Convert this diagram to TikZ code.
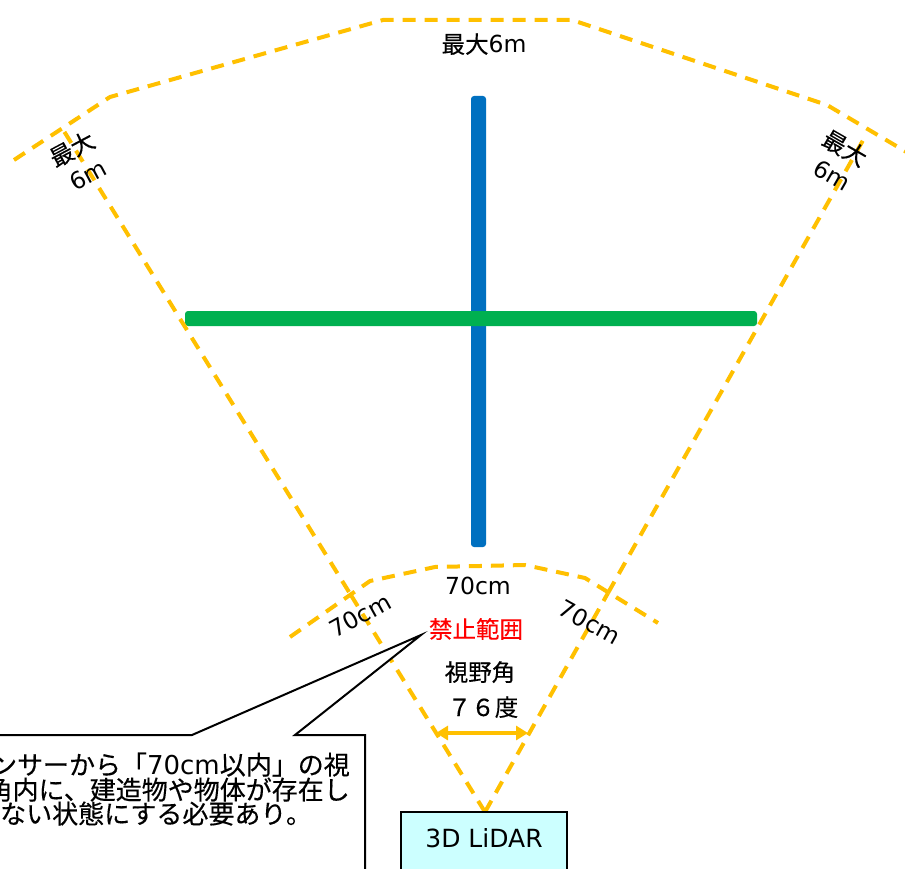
\documentclass[tikz,border=0pt]{standalone}
\usepackage{fontspec}
\setmainfont{DejaVu Sans}
\newfontfamily\cjk[FakeBold=0.3]{Noto Sans CJK JP}
\usetikzlibrary{arrows.meta}
\definecolor{ylw}{HTML}{FFC000}
\definecolor{blu}{HTML}{0070C0}
\definecolor{grn}{HTML}{00B050}
\definecolor{cyn}{HTML}{CCFFFF}
\definecolor{rd}{HTML}{FF0000}
\begin{document}
\begin{tikzpicture}[x=1pt,y=-1pt,
  fov/.style={draw=ylw, line width=4pt, dash pattern=on 13pt off 9pt},
  bar/.style={rounded corners=3pt},
  lbl/.style={inner sep=0pt, font=\fontsize{23.5}{28}\selectfont, text height=18pt, text depth=0pt},
  call/.style={inner sep=0pt, font=\fontsize{26}{30}\selectfont, text height=19pt, text depth=0pt},
  ptr/.style={draw=black, line width=2pt, fill=white, line join=miter},
  boxst/.style={draw=black, line width=2pt, fill=cyn}]
\useasboundingbox (0,0) rectangle (905,869);
\clip (0,0) rectangle (905,869);
\fill[white] (0,0) rectangle (905,869);

% bars
\fill[blu, bar] (471,96) rectangle (486,547);
\fill[grn, bar] (185,311) rectangle (757,326);

% coordinates
\coordinate (apex) at (485,812);
\coordinate (li) at (349,592);
\coordinate (lo) at (62,128);
\coordinate (ri) at (608,593);
\coordinate (ro) at (866,135);
\coordinate (o1) at (14,160);
\coordinate (o2) at (110,97);
\coordinate (o3) at (383,20);
\coordinate (o4) at (572,20);
\coordinate (o5) at (827,105);
\coordinate (o6) at (925,163);
\coordinate (i1) at (290,637);
\coordinate (i2) at (370,581);
\coordinate (i3) at (435,567);
\coordinate (i4) at (525,565);
\coordinate (i5) at (585,578);
\coordinate (i6) at (658,623);

% field of view lines
\draw[fov] (apex) -- (li);
\draw[fov] (li) -- (lo);
\draw[fov] (apex) -- (ri);
\draw[fov] (ri) -- (ro);
\draw[fov] (o1) -- (o2) -- (o3) -- (o4) -- (o5) -- (o6);
\draw[fov] (i1) -- (i2) -- (i3) -- (i4) -- (i5) -- (i6);

% angle arrow
\coordinate (aL) at (436,733);
\coordinate (aR) at (528,733);
\draw[ylw, line width=4pt, {Triangle[length=12pt,width=14pt]}-{Triangle[length=12pt,width=14pt]}] (aL) -- (aR);

% labels
\node[lbl] (top) at (484,44) {{\cjk 最大}6m};
\node[lbl, rotate=28] (lt1) at (72,149) {\cjk 最大};
\node[lbl, rotate=28] (lt2) at (88,175) {6m};
\node[lbl, rotate=-30] (rt1) at (845,148) {\cjk 最大};
\node[lbl, rotate=-30] (rt2) at (832,175) {6m};
\node[lbl] (c70) at (478,585) {70cm};
\node[lbl, rotate=29] (l70) at (360,615) {70cm};
\node[lbl, rotate=-29] (r70) at (590,622) {70cm};
\node[lbl, text=rd] (ban) at (476,629) {\cjk 禁止範囲};
\node[lbl] (fv) at (480,672) {\cjk 視野角};
\node[lbl] (deg) at (483,707) {\cjk ７６度};

% callout
\coordinate (tip) at (421,635);
\draw[ptr] (-30,735) -- (192,735) -- (tip) -- (295,735) -- (365,735) -- (365,890) -- (-30,890) -- cycle;
\node[call, anchor=east] (t1) at (350,765) {{\cjk センサーから「}70cm{\cjk 以内」の視}};
\node[call, anchor=east] (t2) at (350,790) {\cjk 野角内に、建造物や物体が存在し};
\node[call, anchor=west] (t3) at (0,814) {\cjk ない状態にする必要あり。};

% LiDAR box
\draw[boxst] (401,812) rectangle (567,890);
\node[lbl, font=\fontsize{25}{30}\selectfont] (lidar) at (484,838) {3D LiDAR};
\end{tikzpicture}
\end{document}
